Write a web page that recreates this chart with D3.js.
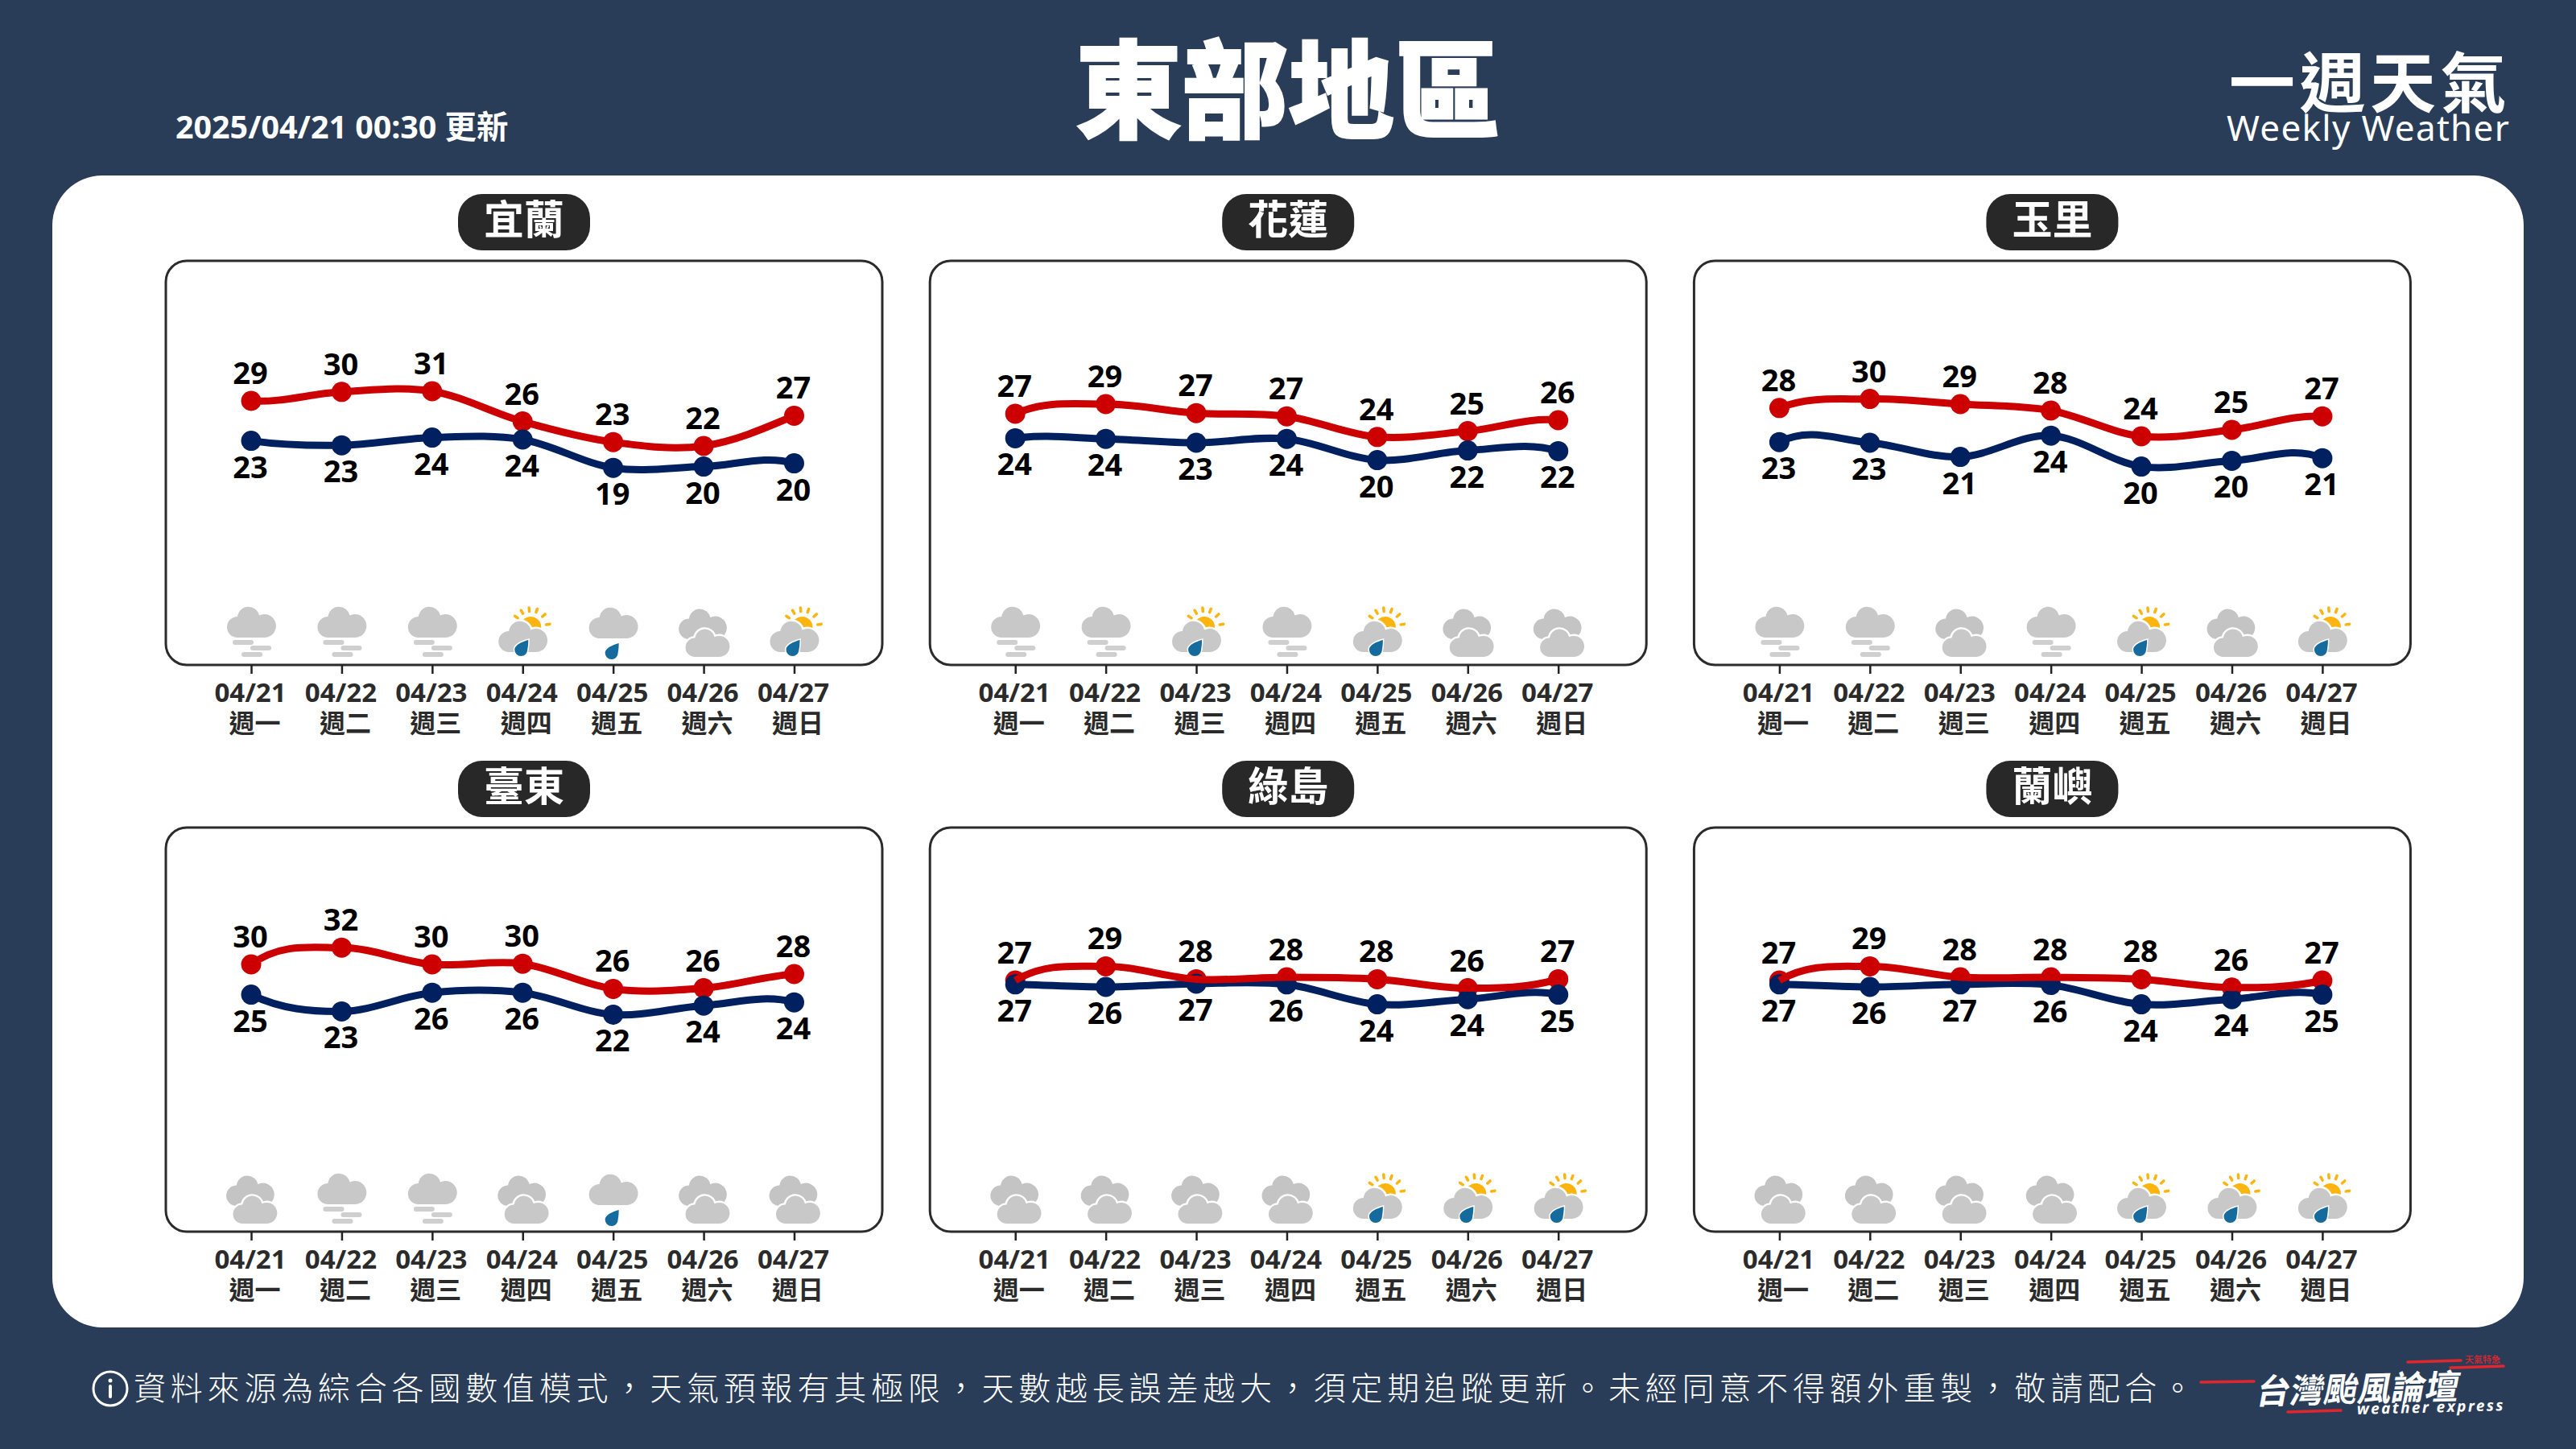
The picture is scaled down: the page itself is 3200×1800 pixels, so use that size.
<!DOCTYPE html>
<html>
<head>
<meta charset="utf-8">
<script src="https://cdn.jsdelivr.net/npm/d3@7"></script>
<style>
  body { margin: 0; background: #2a3d58; }
  text, tspan { font-family: "Noto Sans", "Noto Sans CJK TC", sans-serif; }
  .cjk { font-family: "Noto Sans CJK TC", sans-serif; }
</style>
</head>
<body>
<div id="chart"></div>
<script>
var cityNames = ["宜蘭", "花蓮", "玉里", "臺東", "綠島", "蘭嶼"];
var dateLabels = ["04/21", "04/22", "04/23", "04/24", "04/25", "04/26", "04/27"];
var weekLabels = ["週一", "週二", "週三", "週四", "週五", "週六", "週日"];

// temperatures, the printed labels are kept apart
var highValues = [
  [29.5, 30.9, 31.0, 26.3, 23.1, 22.5, 27.2],
  [27.5, 29.0, 27.6, 27.1, 23.9, 24.8, 26.5],
  [28.4, 29.8, 29.0, 28.0, 24.0, 25.0, 27.1],
  [30.0, 32.6, 30.0, 30.1, 26.2, 26.3, 28.5],
  [27.5, 29.7, 27.7, 28.0, 27.7, 26.3, 27.7],
  [27.5, 29.7, 28.0, 28.0, 27.7, 26.4, 27.5]
];
var lowValues = [
  [23.3, 22.6, 23.8, 23.5, 19.1, 19.3, 19.8],
  [23.7, 23.6, 23.0, 23.6, 20.3, 21.8, 21.7],
  [23.1, 23.0, 20.8, 24.1, 19.3, 20.2, 20.6],
  [25.3, 22.7, 25.6, 25.6, 22.2, 23.6, 24.1],
  [26.9, 26.5, 27.0, 26.9, 23.8, 24.6, 25.3],
  [26.9, 26.5, 26.9, 26.8, 23.8, 24.6, 25.3]
];
// the curves run in from a day before and out to a day after the week, these are
// not drawn, they only give the bend of the first and last segment (read from its shape)
var highBefore = [32.8, 16.5, 18.7, 12.3, 12.8, 13.1];
var highAfter = [34.5, 21.8, 23.1, 28.3, 34.7, 33.0];
var lowBefore = [26.5, 19.7, 8.5, 36.3, 27.0, 26.9];
var lowAfter = [11.0, 12.8, 8.2, 15.5, 18.6, 18.6];

var highLabels = [
  [29, 30, 31, 26, 23, 22, 27],
  [27, 29, 27, 27, 24, 25, 26],
  [28, 30, 29, 28, 24, 25, 27],
  [30, 32, 30, 30, 26, 26, 28],
  [27, 29, 28, 28, 28, 26, 27],
  [27, 29, 28, 28, 28, 26, 27]
];
var lowLabels = [
  [23, 23, 24, 24, 19, 20, 20],
  [24, 24, 23, 24, 20, 22, 22],
  [23, 23, 21, 24, 20, 20, 21],
  [25, 23, 26, 26, 22, 24, 24],
  [27, 26, 27, 26, 24, 24, 25],
  [27, 26, 27, 26, 24, 24, 25]
];
var weatherIcons = [
  ["fog", "fog", "fog", "sunrain", "rain", "cloudy", "sunrain"],
  ["fog", "fog", "sunrain", "fog", "sunrain", "cloudy", "cloudy"],
  ["fog", "fog", "cloudy", "fog", "sunrain", "cloudy", "sunrain"],
  ["cloudy", "fog", "fog", "cloudy", "rain", "cloudy", "cloudy"],
  ["cloudy", "cloudy", "cloudy", "cloudy", "sunrain", "sunrain", "sunrain"],
  ["cloudy", "cloudy", "cloudy", "cloudy", "sunrain", "sunrain", "sunrain"]
];
var noteText = "資料來源為綜合各國數值模式，天氣預報有其極限，天數越長誤差越大，須定期追蹤更新。未經同意不得額外重製，敬請配合。";

var svgWidth = 3200;
var svgHeight = 1800;
var colStep = 949.2;
var rowStep = 704;
var axisY = 826;
var highColor = "#cc0000";
var lowColor = "#002060";
var cloudGrey = "#c8c8c8";

var svg = d3.select("#chart")
  .append("svg")
  .attr("width", svgWidth)
  .attr("height", svgHeight)
  .style("display", "block");

svg.append("rect").attr("width", svgWidth).attr("height", svgHeight).attr("fill", "#2a3d58");
svg.append("rect")
  .attr("x", 65).attr("y", 218)
  .attr("width", 3070).attr("height", 1431)
  .attr("rx", 62)
  .attr("fill", "#fff");

// header
svg.append("text")
  .attr("x", 218).attr("y", 172)
  .attr("font-size", 39.4).attr("font-weight", 700)
  .attr("fill", "#fff")
  .text("2025/04/21 00:30 更新");

svg.append("text")
  .attr("class", "cjk")
  .attr("x", 1600).attr("y", 161)
  .attr("text-anchor", "middle")
  .attr("font-size", 132).attr("font-weight", 900)
  .attr("fill", "#fff").attr("stroke", "#fff").attr("stroke-width", 2)
  .text("東部地區");

var badge = svg.append("text").attr("fill", "#fff");
badge.append("tspan")
  .attr("class", "cjk")
  .attr("x", 2769).attr("y", 133)
  .attr("font-size", 82).attr("font-weight", 700)
  .attr("letter-spacing", 5.5)
  .text("一週天氣");
badge.append("tspan")
  .attr("x", 2766).attr("y", 175)
  .attr("font-size", 44)
  .attr("letter-spacing", 1.3)
  .text("Weekly Weather");

// weather icons, origin sits on the axis line under each date
var cloudPath = "M-17 0A13 13 0 0 1-17-26A13.7 13.7 0 0 1 10-27.5A14.5 14.5 0 1 1 17 0Z";
var dropPath = "M9-12C9-6 8.5-3 8 0A8 8 0 0 1-8 0C-8-6 2-10 9-12Z";

function addCloud(g, dx, dy, scale, fill, outlined) {
  var p = g.append("path")
    .attr("d", cloudPath)
    .attr("transform", `translate(${dx}, ${dy}) scale(${scale})`)
    .attr("fill", fill);
  if (outlined) {
    p.attr("stroke", "#fff").attr("stroke-width", 5).attr("paint-order", "stroke");
  }
}

function addDrop(g, dx, dy) {
  g.append("path")
    .attr("d", dropPath)
    .attr("transform", `translate(${dx}, ${dy})`)
    .attr("fill", "#156a9e")
    .attr("stroke", "#fff").attr("stroke-width", 3).attr("paint-order", "stroke");
}

function drawIcon(g, kind) {
  if (kind == "fog") {
    addCloud(g, 0, -34, 1, cloudGrey);
    [[-23, -31], [-1, -24], [-12, -16]].forEach(b => {
      g.append("rect")
        .attr("x", b[0]).attr("y", b[1])
        .attr("width", 26).attr("height", 6).attr("rx", 3)
        .attr("fill", "#cfcfcf");
    });
  } else if (kind == "rain") {
    addCloud(g, 0, -33, 1, cloudGrey);
    addDrop(g, -2, -15);
  } else if (kind == "cloudy") {
    addCloud(g, -1.5, -32, 0.98, "#c4c4c4");
    addCloud(g, 4.5, -10, 0.9, cloudGrey, true);
  } else {
    var sunX = 10, sunY = -47;
    g.append("circle").attr("cx", sunX).attr("cy", sunY).attr("r", 13).attr("fill", "#fcb40f");
    [145, 120, 95, 70, 42, 9].forEach(a => {
      var rad = a * Math.PI / 180;
      g.append("line")
        .attr("x1", sunX + 19.5 * Math.cos(rad)).attr("y1", sunY - 19.5 * Math.sin(rad))
        .attr("x2", sunX + 24 * Math.cos(rad)).attr("y2", sunY - 24 * Math.sin(rad))
        .attr("stroke", "#fcb40f").attr("stroke-width", 3.5).attr("stroke-linecap", "round");
    });
    addCloud(g, 0, -16, 1, cloudGrey, true);
    addDrop(g, -2, -19);
  }
}

var xScale = d3.scalePoint().domain(dateLabels).range([312, 986.5]);
var dayScale = d3.scaleLinear().domain([0, dateLabels.length - 1]).range(xScale.range());
var yScale = d3.scaleLinear().domain([10, 40]).range([654, 414]);

var lineGen = d3.line()
  .x((d, j) => dayScale(j - 1))
  .y(d => yScale(d))
  .curve(d3.curveCardinalOpen.tension(0));

cityNames.forEach((name, i) => {
  var col = i % 3;
  var row = Math.floor(i / 3);
  var panel = svg.append("g")
    .attr("transform", `translate(${col * colStep}, ${row * rowStep})`);

  var highs = dateLabels.map((d, j) => ({date: d, value: highValues[i][j], label: highLabels[i][j]}));
  var lows = dateLabels.map((d, j) => ({date: d, value: lowValues[i][j], label: lowLabels[i][j]}));

  panel.append("rect")
    .attr("x", 569).attr("y", 241)
    .attr("width", 164).attr("height", 70)
    .attr("rx", 30)
    .attr("fill", "#282828");
  panel.append("text")
    .attr("class", "cjk")
    .attr("x", 651).attr("y", 291)
    .attr("text-anchor", "middle")
    .attr("font-size", 50).attr("font-weight", 700)
    .attr("fill", "#fff")
    .text(name);

  panel.append("rect")
    .attr("x", 206).attr("y", 324)
    .attr("width", 890).attr("height", 502)
    .attr("rx", 26)
    .attr("fill", "none")
    .attr("stroke", "#2b2b2b").attr("stroke-width", 3);

  var axis = panel.append("g")
    .attr("transform", `translate(0, ${axisY})`)
    .call(d3.axisBottom(xScale).tickSize(11));
  axis.select(".domain").remove();
  axis.selectAll(".tick line").attr("stroke", "#222").attr("stroke-width", 2.5);
  axis.selectAll(".tick text").remove();

  // date and weekday share one text element
  var tickText = axis.selectAll(".tick").append("text")
    .attr("text-anchor", "middle")
    .attr("font-weight", 700)
    .attr("fill", "#2b2b2b");
  tickText.append("tspan")
    .attr("x", -1.5).attr("y", 46)
    .attr("font-size", 33)
    .text(d => d);
  tickText.append("tspan")
    .attr("class", "cjk")
    .attr("x", 4).attr("y", 84)
    .attr("font-size", 32)
    .text((d, j) => weekLabels[j]);

  panel.selectAll(".icon")
    .data(weatherIcons[i])
    .enter()
    .append("g")
    .attr("class", "icon")
    .attr("transform", (d, j) => `translate(${xScale(dateLabels[j])}, ${axisY})`)
    .each(function(d) { drawIcon(d3.select(this), d); });

  panel.selectAll(".highDot")
    .data(highs).enter().append("circle")
    .attr("class", "highDot")
    .attr("cx", d => xScale(d.date)).attr("cy", d => yScale(d.value))
    .attr("r", 12.5).attr("fill", highColor);
  panel.selectAll(".lowDot")
    .data(lows).enter().append("circle")
    .attr("class", "lowDot")
    .attr("cx", d => xScale(d.date)).attr("cy", d => yScale(d.value))
    .attr("r", 12.5).attr("fill", lowColor);

  panel.append("path").attr("d", lineGen([lowBefore[i], ...lowValues[i], lowAfter[i]]))
    .attr("fill", "none").attr("stroke", lowColor).attr("stroke-width", 9);
  panel.append("path").attr("d", lineGen([highBefore[i], ...highValues[i], highAfter[i]]))
    .attr("fill", "none").attr("stroke", highColor).attr("stroke-width", 9);

  panel.selectAll(".highText")
    .data(highs).enter().append("text")
    .attr("class", "highText")
    .attr("x", d => xScale(d.date) - 1).attr("y", d => yScale(d.value) - 21)
    .attr("text-anchor", "middle")
    .attr("font-size", 38).attr("font-weight", 700)
    .attr("fill", "#000")
    .text(d => d.label);
  panel.selectAll(".lowText")
    .data(lows).enter().append("text")
    .attr("class", "lowText")
    .attr("x", d => xScale(d.date) - 1).attr("y", d => yScale(d.value) + 46)
    .attr("text-anchor", "middle")
    .attr("font-size", 38).attr("font-weight", 700)
    .attr("fill", "#000")
    .text(d => d.label);
});

// footer note
svg.append("circle")
  .attr("cx", 137).attr("cy", 1725).attr("r", 21)
  .attr("fill", "none").attr("stroke", "#fff").attr("stroke-width", 3);
svg.append("circle").attr("cx", 137).attr("cy", 1715).attr("r", 2.5).attr("fill", "#fff");
svg.append("line")
  .attr("x1", 137).attr("x2", 137).attr("y1", 1722).attr("y2", 1735)
  .attr("stroke", "#fff").attr("stroke-width", 4).attr("stroke-linecap", "round");

svg.append("text")
  .attr("class", "cjk")
  .attr("x", 166).attr("y", 1739)
  .attr("font-size", 40).attr("font-weight", 300)
  .attr("letter-spacing", 5.8)
  .attr("fill", "#fff")
  .text(noteText);

// forum logo
[[2734, 1717, 2800, 1716], [2842, 1754, 2908, 1752], [2991, 1692, 3057, 1690], [3044, 1699, 3110, 1697]].forEach(s => {
  svg.append("line")
    .attr("x1", s[0]).attr("y1", s[1]).attr("x2", s[2]).attr("y2", s[3])
    .attr("stroke", "#e1262d").attr("stroke-width", 3.5).attr("stroke-linecap", "round");
});
svg.append("text")
  .attr("class", "cjk")
  .attr("transform", "translate(2801, 1744) rotate(-1.5) skewX(-12)")
  .attr("font-size", 42).attr("font-weight", 700)
  .attr("fill", "#fff")
  .text("台灣颱風論壇");
svg.append("text")
  .attr("transform", "translate(2928, 1757) rotate(-1.5)")
  .attr("font-size", 19).attr("font-weight", 700).attr("font-style", "italic")
  .attr("letter-spacing", 2.4)
  .attr("fill", "#fff")
  .text("weather express");
svg.append("text")
  .attr("class", "cjk")
  .attr("x", 3062).attr("y", 1693)
  .attr("font-size", 11).attr("font-weight", 500)
  .attr("fill", "#e1262d")
  .text("天氣特急");
</script>
</body>
</html>
